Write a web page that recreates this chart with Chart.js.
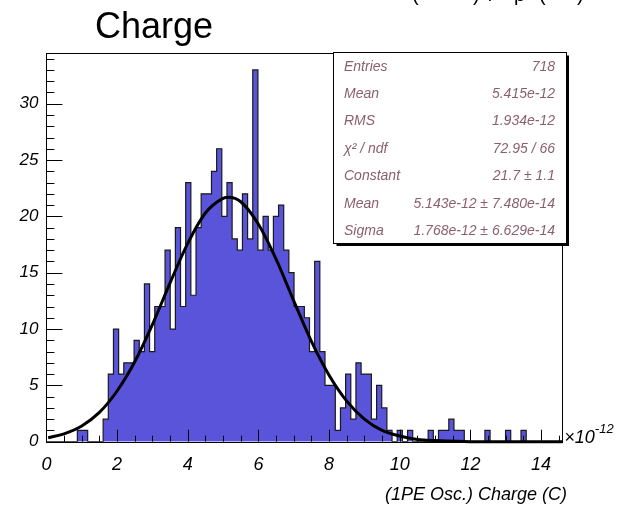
<!DOCTYPE html>
<html>
<head>
<meta charset="utf-8">
<title>Charge</title>
<script src="https://cdn.jsdelivr.net/npm/chart.js@4.4.1/dist/chart.umd.min.js"></script>
<style>
  html, body { margin: 0; padding: 0; background: #fff; }
  canvas { display: block; }
</style>
</head>
<body>
<canvas id="histChart" width="625" height="512"></canvas>
<script>
// histogram: 100 bins of 0.146 from 0 to 14.6 (x10^-12 C)
const binLow = 0;
const binWidth = 0.146;
const counts = [
  0, 0, 0, 0, 0, 0, 1, 1, 0, 0,
  0, 2, 6, 10, 6, 7, 7, 9, 8, 14,
  8, 12, 12, 17, 10, 19, 12, 23, 13, 19,
  22, 22, 24, 26, 20, 23, 18, 17, 22, 18,
  33, 17, 20, 17, 20, 21, 17, 15, 12, 12,
  11, 8, 16, 8, 5, 5, 1, 3, 6, 2,
  7, 6, 6, 2, 5, 3, 1, 0, 1, 0,
  1, 0, 0, 0, 1, 0, 1, 1, 2, 1,
  1, 0, 0, 0, 0, 1, 0, 0, 0, 1,
  0, 0, 1, 0, 0, 0, 0, 0, 0, 0
];

// gaussian fit curve
const fitX = [0.05, 0.5, 1, 1.5, 2, 2.5, 3, 3.5, 4, 4.5, 5, 5.15, 5.5, 6, 6.5, 7, 7.5, 8, 8.5, 9, 9.5, 10, 10.5, 11, 12, 13, 14.6];
const fitY = [0.35, 0.7, 1.4, 2.6, 4.5, 7.1, 10.4, 14.1, 17.6, 20.3, 21.6, 21.7, 21.3, 19.3, 16.2, 12.5, 8.9, 5.9, 3.6, 2.0, 1.0, 0.5, 0.2, 0.1, 0, 0, 0];

const xTicks = [0, 2, 4, 6, 8, 10, 12, 14];
const yTicks = [0, 5, 10, 15, 20, 25, 30];

const statLabels = ['Entries', 'Mean', 'RMS', 'χ² / ndf', 'Constant', 'Mean', 'Sigma'];
const statValues = ['718', '5.415e-12', '1.934e-12', '72.95 / 66', '21.7 ± 1.1', '5.143e-12 ± 7.480e-14', '1.768e-12 ± 6.629e-14'];

const FONT = "'Liberation Sans', Arial, sans-serif";

const histPoints = counts.map((c, i) => ({ x: binLow + i * binWidth, y: c }));
histPoints.push({ x: binLow + counts.length * binWidth, y: counts[counts.length - 1] });
const fitPoints = fitX.map((x, i) => ({ x: x, y: fitY[i] }));

// ROOT look: inward ticks, frame, stats box, titles
const rootDecor = {
  id: 'rootDecor',
  afterDatasetsDraw(chart) {
    const { ctx, chartArea: a, scales: { x, y } } = chart;
    ctx.save();
    ctx.strokeStyle = '#000';
    ctx.lineWidth = 1;
    ctx.beginPath();
    for (let v = 0; v <= y.max; v += 1) {
      const py = Math.round(y.getPixelForValue(v)) + 0.5;
      const len = v % 5 === 0 ? 16 : 8;
      ctx.moveTo(a.left, py);
      ctx.lineTo(a.left + len, py);
    }
    for (let k = 0; k * 0.5 <= x.max; k++) {
      const px = Math.round(x.getPixelForValue(k * 0.5)) + 0.5;
      const len = k % 4 === 0 ? 12 : 6;
      ctx.moveTo(px, a.bottom);
      ctx.lineTo(px, a.bottom - len);
    }
    ctx.stroke();
    ctx.strokeRect(Math.round(a.left) + 0.5, Math.round(a.top) + 0.5,
      Math.round(a.right - a.left), Math.round(a.bottom - a.top));
    ctx.restore();
  },
  afterDraw(chart) {
    const ctx = chart.ctx;
    const a = chart.chartArea;
    ctx.save();

    // title
    ctx.fillStyle = '#000';
    ctx.font = '36px ' + FONT;
    ctx.textAlign = 'left';
    ctx.textBaseline = 'alphabetic';
    ctx.fillText('Charge', 95, 38);

    // clipped pave text at the very top
    ctx.font = '20px ' + FONT;
    [['(', 412], [')', 473], ['/', 489], ['p', 514], ['(', 539], [')', 577]].forEach(g => ctx.fillText(g[0], g[1], 1));

    // axis title and exponent
    ctx.font = 'italic 18px ' + FONT;
    ctx.textAlign = 'right';
    ctx.textBaseline = 'middle';
    ctx.fillText('(1PE Osc.) Charge (C)', 567, 495);
    ctx.textAlign = 'left';
    ctx.fillText('×10', a.right + 2, 438);
    const w10 = ctx.measureText('×10').width;
    ctx.font = 'italic 13px ' + FONT;
    ctx.fillText('-12', a.right + 2 + w10, 429);

    // stats box
    const bx = 333.5, by = 52.5, bw = 233, bh = 191;
    ctx.fillStyle = '#fff';
    ctx.fillRect(bx, by, bw, bh);
    ctx.strokeStyle = '#000';
    ctx.lineWidth = 1;
    ctx.strokeRect(bx, by, bw, bh);
    ctx.lineWidth = 2;
    ctx.beginPath();
    ctx.moveTo(bx + bw + 1.5, by + 3);
    ctx.lineTo(bx + bw + 1.5, by + bh + 1.5);
    ctx.lineTo(bx + 3, by + bh + 1.5);
    ctx.stroke();

    ctx.fillStyle = '#8b5f6e';
    ctx.font = 'italic 14px ' + FONT;
    ctx.textBaseline = 'middle';
    statLabels.forEach((lab, i) => {
      const ty = 66.7 + i * 27.4;
      ctx.textAlign = 'left';
      ctx.fillText(lab, 344, ty);
      ctx.textAlign = 'right';
      ctx.fillText(statValues[i], 555, ty);
    });
    ctx.restore();
  }
};

new Chart(document.getElementById('histChart'), {
  type: 'line',
  data: {
    datasets: [
      {
        label: 'gaus',
        data: fitPoints,
        borderColor: '#000',
        borderWidth: 3,
        pointRadius: 0,
        cubicInterpolationMode: 'monotone',
        fill: false,
        clip: 5
      },
      {
        label: 'Charge',
        data: histPoints,
        stepped: 'before',
        borderColor: '#1a1a1a',
        borderWidth: 1.2,
        backgroundColor: 'rgb(89, 84, 217)',
        fill: 'origin',
        pointRadius: 0
      }
    ]
  },
  options: {
    responsive: false,
    animation: false,
    layout: { padding: { left: 0, top: 53, right: 62.7, bottom: 0 } },
    plugins: {
      legend: { display: false },
      tooltip: { enabled: false }
    },
    scales: {
      x: {
        type: 'linear',
        min: 0,
        max: 14.6,
        grid: { display: false, drawTicks: false },
        border: { display: false },
        afterBuildTicks: s => { s.ticks = xTicks.map(v => ({ value: v })); },
        afterFit: s => { s.height = 70.3; },
        ticks: {
          padding: 12,
          autoSkip: false,
          maxRotation: 0,
          color: '#000',
          font: { family: FONT, style: 'italic', size: 18 },
          callback: v => String(v)
        }
      },
      y: {
        type: 'linear',
        min: 0,
        max: 34.5,
        grid: { display: false, drawTicks: false },
        border: { display: false },
        afterBuildTicks: s => { s.ticks = yTicks.map(v => ({ value: v })); },
        afterFit: s => { s.width = 46.4; },
        ticks: {
          padding: 8,
          color: '#000',
          font: { family: FONT, style: 'italic', size: 17 },
          callback: v => String(v)
        }
      }
    }
  },
  plugins: [rootDecor]
});
</script>
</body>
</html>
